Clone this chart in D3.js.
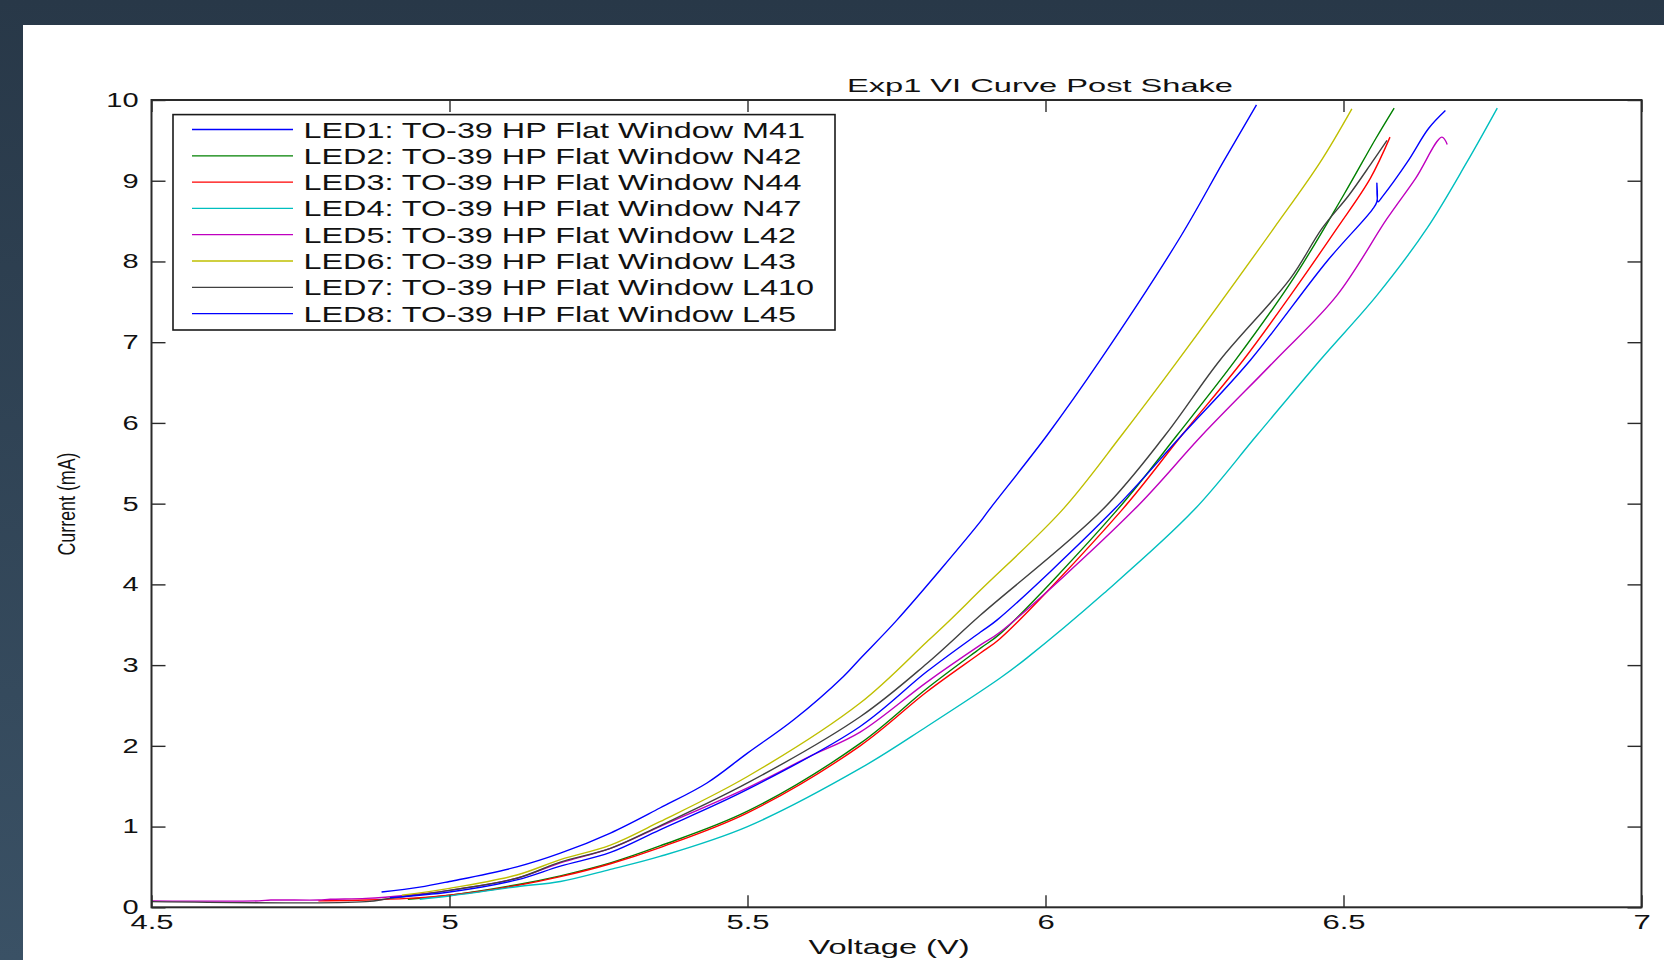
<!DOCTYPE html>
<html>
<head>
<meta charset="utf-8">
<script src="https://cdn.jsdelivr.net/npm/d3@7"></script>
<style>
  html, body { margin: 0; padding: 0; background: #2c3e50; }
  svg { display: block; }
  text { font-family: "Liberation Sans", Arial, sans-serif; fill: #111; }
</style>
</head>
<body>
<svg id="chart" width="1664" height="960"></svg>
<script>
// ---------------- data ----------------
const titleText = "Exp1 VI Curve Post Shake";
const xLabel = "Voltage (V)";
const yLabel = "Current (mA)";
const xTicks = [4.5, 5, 5.5, 6, 6.5, 7];
const xTickLabels = ["4.5", "5", "5.5", "6", "6.5", "7"];
const yTicks = [0, 1, 2, 3, 4, 5, 6, 7, 8, 9, 10];
const yTickLabels = ["0", "1", "2", "3", "4", "5", "6", "7", "8", "9", "10"];

const seriesNames = [
  "LED1: TO-39 HP Flat Window M41",
  "LED2: TO-39 HP Flat Window N42",
  "LED3: TO-39 HP Flat Window N44",
  "LED4: TO-39 HP Flat Window N47",
  "LED5: TO-39 HP Flat Window L42",
  "LED6: TO-39 HP Flat Window L43",
  "LED7: TO-39 HP Flat Window L410",
  "LED8: TO-39 HP Flat Window L45"
];
const seriesColors = ["#0000ff", "#008000", "#ff0000", "#00bfbf", "#bf00bf", "#bfbf00", "#404040", "#0000ff"];

// [voltage V, current mA]
const led1 = [[4.886,0.19],[4.95,0.25],[5.0,0.32],[5.113,0.50],[5.186,0.67],[5.27,0.92],[5.353,1.23],[5.432,1.54],[5.5,1.91],[5.577,2.32],[5.661,2.86],[5.689,3.08],[5.751,3.56],[5.891,4.78],[5.905,4.92],[6.003,5.85],[6.092,6.78],[6.226,8.30],[6.298,9.23],[6.354,9.94]];
const led2 = [[4.93,0.10],[5.0,0.15],[5.113,0.28],[5.186,0.39],[5.27,0.55],[5.353,0.76],[5.5,1.19],[5.689,2.03],[5.801,2.71],[5.891,3.21],[5.924,3.39],[6.120,4.92],[6.221,5.85],[6.319,6.78],[6.416,7.79],[6.500,8.82],[6.554,9.52],[6.585,9.90]];
const led3 = [[4.78,0.08],[4.86,0.09],[4.93,0.11],[5.0,0.15],[5.113,0.27],[5.186,0.38],[5.27,0.54],[5.353,0.74],[5.5,1.17],[5.689,2.0],[5.801,2.67],[5.891,3.15],[5.924,3.33],[6.128,4.92],[6.229,5.85],[6.332,6.78],[6.411,7.58],[6.489,8.41],[6.545,9.03],[6.578,9.54]];
const led4 = [[4.95,0.10],[5.0,0.14],[5.113,0.255],[5.186,0.32],[5.27,0.47],[5.353,0.63],[5.5,1.0],[5.689,1.72],[5.801,2.24],[5.924,2.84],[5.969,3.09],[6.098,3.89],[6.249,4.92],[6.355,5.85],[6.461,6.78],[6.556,7.58],[6.640,8.41],[6.707,9.23],[6.758,9.90]];
const led5 = [[4.5,0.08],[4.68,0.08],[4.70,0.09],[4.78,0.09],[4.80,0.10],[4.86,0.11],[4.93,0.15],[5.0,0.21],[5.113,0.36],[5.186,0.55],[5.27,0.73],[5.353,1.0],[5.5,1.48],[5.602,1.86],[5.689,2.17],[5.801,2.79],[5.891,3.25],[5.924,3.41],[6.148,4.92],[6.263,5.85],[6.386,6.78],[6.489,7.58],[6.573,8.53],[6.621,9.03],[6.665,9.54],[6.674,9.45]];
const led6 = [[4.92,0.15],[5.0,0.235],[5.113,0.40],[5.186,0.59],[5.27,0.77],[5.353,1.06],[5.5,1.62],[5.689,2.53],[5.801,3.29],[5.840,3.56],[5.891,3.93],[6.028,4.92],[6.128,5.85],[6.223,6.78],[6.383,8.41],[6.461,9.23],[6.514,9.89]];
const led7 = [[4.5,0.07],[4.86,0.07],[4.9,0.11],[5.0,0.21],[5.113,0.36],[5.186,0.56],[5.27,0.73],[5.353,1.01],[5.5,1.54],[5.689,2.36],[5.801,3.02],[5.891,3.62],[6.095,4.92],[6.201,5.85],[6.293,6.78],[6.411,7.79],[6.464,8.41],[6.509,8.82],[6.548,9.23],[6.573,9.50]];
const led8 = [[4.90,0.12],[5.0,0.19],[5.113,0.34],[5.186,0.51],[5.27,0.68],[5.353,0.96],[5.5,1.46],[5.689,2.24],[5.801,2.92],[5.891,3.41],[5.919,3.56],[6.114,4.92],[6.229,5.85],[6.344,6.78],[6.472,8.0],[6.548,8.64],[6.556,8.74],[6.556,8.97],[6.558,8.74],[6.565,8.80],[6.607,9.23],[6.643,9.65],[6.671,9.87]];
const seriesData = [led1, led2, led3, led4, led5, led6, led7, led8];

// ---------------- layout ----------------
const W = 1664, H = 960;
const plot = { left: 151.5, right: 1641.5, top: 100, bottom: 907.3 };

const svg = d3.select("#chart");
const defs = svg.append("defs");
const grad = defs.append("linearGradient").attr("id", "bg").attr("x1", 0).attr("y1", 0).attr("x2", 0).attr("y2", 1);
grad.append("stop").attr("offset", "0%").attr("stop-color", "#283848");
grad.append("stop").attr("offset", "100%").attr("stop-color", "#3a5165");

svg.append("rect").attr("width", W).attr("height", H).attr("fill", "url(#bg)");
svg.append("rect").attr("x", 23).attr("y", 25).attr("width", W - 23).attr("height", H - 25).attr("fill", "#ffffff");

const x = d3.scaleLinear().domain([4.5, 7]).range([plot.left, plot.right]);
const y = d3.scaleLinear().domain([0, 10]).range([plot.bottom, plot.top]);

function stretch(sel, k) {
  sel.each(function () {
    const w = this.getComputedTextLength();
    this.setAttribute("textLength", w * k);
    this.setAttribute("lengthAdjust", "spacingAndGlyphs");
  });
}

// curves (clipped to plot)
defs.append("clipPath").attr("id", "clip").append("rect")
  .attr("x", plot.left).attr("y", plot.top).attr("width", plot.right - plot.left).attr("height", plot.bottom - plot.top);

const line = d3.line().x(d => x(d[0])).y(d => y(d[1])).curve(d3.curveCatmullRom.alpha(0.5));
const curves = svg.append("g").attr("clip-path", "url(#clip)");
seriesData.forEach((s, i) => {
  curves.append("path").datum(s).attr("d", line)
    .attr("fill", "none").attr("stroke", seriesColors[i]).attr("stroke-width", 1.4)
    .attr("stroke-linejoin", "round");
});

// axes (inward ticks on all sides)
const axisColor = "#2a2a2a";
const gB = svg.append("g").attr("transform", `translate(0,${plot.bottom})`)
  .call(d3.axisBottom(x).tickValues(xTicks).tickFormat((d, i) => xTickLabels[i]).tickSizeInner(-12).tickSizeOuter(0).tickPadding(8));
const gT = svg.append("g").attr("transform", `translate(0,${plot.top})`)
  .call(d3.axisTop(x).tickValues(xTicks).tickFormat("").tickSizeInner(-12).tickSizeOuter(0));
const gL = svg.append("g").attr("transform", `translate(${plot.left},0)`)
  .call(d3.axisLeft(y).tickValues(yTicks).tickFormat((d, i) => yTickLabels[i]).tickSizeInner(-14).tickSizeOuter(0).tickPadding(13));
const gR = svg.append("g").attr("transform", `translate(${plot.right},0)`)
  .call(d3.axisRight(y).tickValues(yTicks).tickFormat("").tickSizeInner(-14).tickSizeOuter(0));

[gB, gT, gL, gR].forEach(g => {
  g.select(".domain").remove();
  g.selectAll(".tick line").attr("stroke", axisColor).attr("stroke-width", 1.4);
  g.selectAll(".tick text").attr("font-size", 20).attr("fill", "#111")
    .style("font-family", '"Liberation Sans", Arial, sans-serif');
});
stretch(gB.selectAll(".tick text"), 1.55);
stretch(gL.selectAll(".tick text"), 1.45);

// plot frame
svg.append("rect").attr("x", plot.left).attr("y", plot.top)
  .attr("width", plot.right - plot.left).attr("height", plot.bottom - plot.top)
  .attr("fill", "none").attr("stroke", axisColor).attr("stroke-width", 2);

// title and axis labels
svg.append("text").attr("x", 1040).attr("y", 92).attr("text-anchor", "middle")
  .attr("font-size", 19).attr("textLength", 386).attr("lengthAdjust", "spacingAndGlyphs").text(titleText);

svg.append("text").attr("x", 889).attr("y", 954).attr("text-anchor", "middle")
  .attr("font-size", 20).attr("textLength", 161).attr("lengthAdjust", "spacingAndGlyphs").text(xLabel);

svg.append("text").attr("transform", "translate(75,504) rotate(-90)").attr("text-anchor", "middle")
  .attr("font-size", 23).attr("textLength", 103).attr("lengthAdjust", "spacingAndGlyphs").text(yLabel);

// legend
const leg = { x0: 173, y0: 114.6, x1: 835, y1: 330, row0: 129.5, rowStep: 26.3, lx0: 192, lx1: 293, tx: 303.5 };
const lg = svg.append("g");
lg.append("rect").attr("x", leg.x0).attr("y", leg.y0).attr("width", leg.x1 - leg.x0).attr("height", leg.y1 - leg.y0)
  .attr("fill", "#fff").attr("stroke", "#1a1a1a").attr("stroke-width", 1.6);
seriesNames.forEach((name, i) => {
  const yy = leg.row0 + i * leg.rowStep;
  lg.append("line").attr("x1", leg.lx0).attr("x2", leg.lx1).attr("y1", yy).attr("y2", yy)
    .attr("stroke", seriesColors[i]).attr("stroke-width", 1.3);
  const tx = lg.append("text").attr("x", leg.tx).attr("y", yy + 8).attr("font-size", 22).text(name);
  stretch(tx, 1.47);
});
</script>
</body>
</html>
